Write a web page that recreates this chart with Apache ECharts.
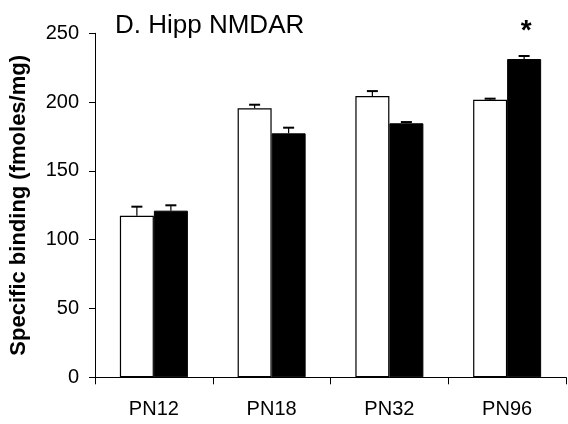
<!DOCTYPE html>
<html>
<head>
<meta charset="utf-8">
<script src="https://cdn.jsdelivr.net/npm/echarts@6/dist/echarts.min.js"></script>
<style>html,body{margin:0;padding:0;background:#fff}#c{width:568px;height:424px}</style>
</head>
<body>
<div id="c"></div>
<script>
const categories = ['PN12', 'PN18', 'PN32', 'PN96'];
const controlMean = [117.4, 195.5, 204.4, 201.7];
const controlErr = [6.6, 2.6, 3.6, 0.8];
const treatedMean = [121.1, 177.3, 184.6, 231.3];
const treatedErr = [3.9, 4.1, 0.9, 2.2];
const significance = ['', '', '', '*'];
const yTicks = [0, 50, 100, 150, 200, 250];

const FONT = '"Liberation Sans", Arial, sans-serif';
const BAR_W = 34;

function errSeries(means, errs, side) {
  return {
    type: 'custom',
    z: 5,
    data: means.map((m, i) => [i, m, m + errs[i]]),
    renderItem: function (params, api) {
      const base = api.coord([api.value(0), api.value(1)]);
      const top = api.coord([api.value(0), api.value(2)]);
      const x = base[0] + side * BAR_W / 2;
      return {
        type: 'group',
        children: [
          { type: 'line', shape: { x1: x, y1: base[1], x2: x, y2: top[1] }, style: { stroke: '#000', lineWidth: 1.2 } },
          { type: 'line', shape: { x1: x - 5.5, y1: top[1], x2: x + 5.5, y2: top[1] }, style: { stroke: '#000', lineWidth: 2 } }
        ]
      };
    }
  };
}

const chart = echarts.init(document.getElementById('c'));
chart.setOption({
  animation: false,
  title: {
    text: 'D. Hipp NMDAR',
    left: 110, top: 8,
    textStyle: { fontFamily: FONT, fontSize: 26, fontWeight: 'normal', color: '#000' }
  },
  grid: { left: 92, right: 2, top: 33.3, bottom: 46.7 },
  xAxis: {
    type: 'category',
    data: categories,
    axisLine: { lineStyle: { color: '#000', width: 1 } },
    axisTick: { show: true, length: 7, lineStyle: { color: '#000' } },
    axisLabel: { color: '#000', fontFamily: FONT, fontSize: 20, margin: 22 }
  },
  yAxis: {
    type: 'value',
    min: yTicks[0], max: yTicks[yTicks.length - 1], interval: 50,
    name: 'Specific binding (fmoles/mg)',
    nameLocation: 'middle',
    nameGap: 65,
    nameTextStyle: { fontFamily: FONT, fontSize: 22, fontWeight: 'bold', color: '#000' },
    axisLine: { show: true, lineStyle: { color: '#000', width: 1 } },
    axisTick: { show: true, length: 6, lineStyle: { color: '#000' } },
    splitLine: { show: false },
    axisLabel: { color: '#000', fontFamily: FONT, fontSize: 20, margin: 16 }
  },
  series: [
    {
      type: 'bar', data: controlMean, barWidth: BAR_W, barGap: '0%',
      itemStyle: { color: '#fff', borderColor: '#000', borderWidth: 1.2 }
    },
    {
      type: 'bar', data: treatedMean, barWidth: BAR_W, barGap: '0%',
      itemStyle: { color: '#000', borderColor: '#000', borderWidth: 1 },
      label: {
        show: true, position: 'top', distance: 14, offset: [2, 0],
        formatter: p => significance[p.dataIndex],
        fontFamily: FONT, fontSize: 28, fontWeight: 'bold', color: '#000'
      }
    },
    errSeries(controlMean, controlErr, -1),
    errSeries(treatedMean, treatedErr, 1)
  ]
});
</script>
</body>
</html>
